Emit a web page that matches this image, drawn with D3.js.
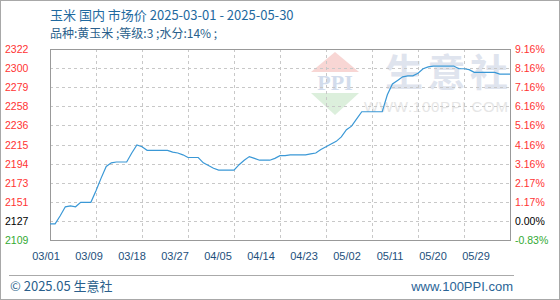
<!DOCTYPE html>
<html>
<head>
<meta charset="utf-8">
<script src="https://cdn.jsdelivr.net/npm/d3@7"></script>
<style>
  body { margin: 0; background: #fff; }
  svg { display: block; }
</style>
</head>
<body>
<svg id="chart" width="560" height="300"></svg>
<script>
// daily price, 2025-03-01 .. 2025-05-30
const prices = [
  2127, 2127, 2136, 2146, 2147, 2146, 2151, 2151, 2151, 2164,
  2178, 2191, 2195, 2196, 2196, 2196, 2206, 2215, 2213, 2209,
  2209, 2209, 2209, 2209, 2207, 2206, 2204, 2201, 2201, 2201,
  2195, 2192, 2189, 2187, 2187, 2187, 2187, 2193, 2198, 2202,
  2200, 2198, 2198, 2198, 2200, 2203, 2203, 2204, 2204, 2204,
  2204, 2205, 2206, 2210, 2213, 2216, 2219, 2224, 2232, 2236,
  2244, 2252, 2252, 2252, 2252, 2252, 2271, 2283, 2287, 2291,
  2292, 2292, 2295, 2300, 2302, 2303, 2303, 2303, 2303, 2303,
  2300, 2300, 2299, 2296, 2296, 2296, 2296, 2296, 2294, 2294,
  2294
];
const startDate = new Date(2025, 2, 1);
const endDate = new Date(2025, 4, 30);

const leftLabels = ["2322", "2300", "2279", "2258", "2236", "2215", "2194", "2173", "2151", "2127", "2109"];
const rightLabels = ["9.16%", "8.16%", "7.16%", "6.16%", "5.16%", "4.16%", "3.16%", "2.17%", "1.17%", "0.00%", "-0.83%"];
const xLabels = ["03/01", "03/09", "03/18", "03/27", "04/05", "04/14", "04/23", "05/02", "05/11", "05/20", "05/29"];

const yMax = 2322, yMin = 2109;

const svg = d3.select('#chart');
const W = 560, H = 300;
const m = {left: 50, right: 510, top: 49, bottom: 240};

const dates = d3.timeDay.range(startDate, d3.timeDay.offset(endDate, 1));
const data = dates.map((d, i) => ({date: d, value: prices[i]}));

let x = d3.scaleTime().domain([startDate, endDate]).range([m.left, m.right]);
let y = d3.scaleLinear().domain([yMin, yMax]).range([m.bottom, m.top]);

// outer frame
svg.append('rect')
   .attr('x', 0.5).attr('y', 0.5)
   .attr('width', W - 1).attr('height', H - 1)
   .attr('fill', '#fff').attr('stroke', '#a8a8a8');

// watermark
let wm = svg.append('g');
wm.append('path')
  .attr('d', 'M335,52 L359,72 L311,72 Z')
  .attr('fill', '#f8d6d4');
wm.append('text')
  .attr('x', 335).attr('y', 90)
  .attr('text-anchor', 'middle')
  .attr('font-family', 'Liberation Serif')
  .attr('font-weight', 'bold')
  .attr('font-size', 22)
  .attr('fill', '#d2dcec')
  .text('PPI');
wm.append('path')
  .attr('d', 'M311,93 L359,93 L335,115 Z')
  .attr('fill', '#dcefdc');
wm.append('text')
  .attr('x', 385).attr('y', 86)
  .attr('textLength', 123)
  .attr('font-family', 'Noto Sans CJK SC')
  .attr('font-weight', 'bold')
  .attr('font-size', 38)
  .attr('fill', '#dfe4ee')
  .text('生意社');
wm.append('text')
  .attr('x', 364).attr('y', 112)
  .attr('textLength', 144)
  .attr('font-family', 'Liberation Sans')
  .attr('font-size', 15)
  .attr('fill', '#e6e6e6')
  .text('WWW.100PPI.COM');

// grid
let gridVals = d3.range(leftLabels.length).map(i => yMax - i * (yMax - yMin) / (leftLabels.length - 1));
let vGrid = d3.range(1, 10).map(i => d3.timeDay.offset(startDate, i * 9));

svg.append('g').selectAll('line')
   .data(gridVals.slice(1, -1))
   .enter().append('line')
   .attr('x1', m.left).attr('x2', m.right)
   .attr('y1', d => Math.round(y(d)) + 0.5).attr('y2', d => Math.round(y(d)) + 0.5)
   .attr('stroke', '#c8c8c8').attr('stroke-dasharray', '3,3');

svg.append('g').selectAll('line')
   .data(vGrid)
   .enter().append('line')
   .attr('x1', d => Math.round(x(d)) + 0.5).attr('x2', d => Math.round(x(d)) + 0.5)
   .attr('y1', m.top).attr('y2', m.bottom)
   .attr('stroke', '#c8c8c8').attr('stroke-dasharray', '3,3');

// plot frame
svg.append('rect')
   .attr('x', m.left + 0.5).attr('y', m.top + 0.5)
   .attr('width', m.right - m.left).attr('height', m.bottom - m.top)
   .attr('fill', 'none').attr('stroke', '#999');

// price line
let line = d3.line().x(d => x(d.date)).y(d => y(d.value));
svg.append('path')
   .datum(data)
   .attr('d', line)
   .attr('fill', 'none')
   .attr('stroke', '#3a98d6')
   .attr('stroke-width', 1.2);

// axis labels
let labelColor = (i, n) => i == n - 1 ? '#33aa33' : (i == n - 2 ? '#000' : '#ff3333');

svg.append('g').selectAll('text')
   .data(leftLabels)
   .enter().append('text')
   .attr('x', 5)
   .attr('y', (d, i) => y(gridVals[i]) + 4)
   .attr('font-family', 'Liberation Sans')
   .attr('font-size', 10.5)
   .attr('fill', (d, i) => labelColor(i, leftLabels.length))
   .text(d => d);

svg.append('g').selectAll('text')
   .data(rightLabels)
   .enter().append('text')
   .attr('x', 515)
   .attr('y', (d, i) => y(gridVals[i]) + 4)
   .attr('font-family', 'Liberation Sans')
   .attr('font-size', 10.5)
   .attr('fill', (d, i) => labelColor(i, rightLabels.length))
   .text(d => d);

let xl = d3.scalePoint().domain(xLabels).range([46, 476]);
svg.append('g').selectAll('text')
   .data(xLabels)
   .enter().append('text')
   .attr('x', d => xl(d))
   .attr('y', 260)
   .attr('text-anchor', 'middle')
   .attr('font-family', 'Liberation Sans')
   .attr('font-size', 11)
   .attr('fill', '#1d4f7c')
   .text(d => d);

// title
svg.append('text')
   .attr('x', 50).attr('y', 20)
   .attr('font-family', 'Noto Sans CJK SC')
   .attr('font-size', 13)
   .attr('fill', '#1f6aa0')
   .text('玉米 国内 市场价 2025-03-01 - 2025-05-30');
svg.append('text')
   .attr('x', 50).attr('y', 38)
   .attr('font-family', 'Noto Sans CJK SC')
   .attr('font-size', 12)
   .attr('fill', '#2a5f8c')
   .text('品种:黄玉米 ;等级:3 ;水分:14% ;');

// footer
svg.append('line')
   .attr('x1', 9).attr('x2', 514)
   .attr('y1', 275.5).attr('y2', 275.5)
   .attr('stroke', '#aaa');
svg.append('text')
   .attr('x', 10).attr('y', 291)
   .attr('font-family', 'Noto Sans CJK SC')
   .attr('font-size', 13)
   .attr('fill', '#2a5f8c')
   .text('© 2025.05 生意社');
svg.append('text')
   .attr('x', 513).attr('y', 291)
   .attr('text-anchor', 'end')
   .attr('font-family', 'Liberation Sans')
   .attr('font-size', 13)
   .attr('fill', '#2a6496')
   .text('www.100PPI.com');
</script>
</body>
</html>
